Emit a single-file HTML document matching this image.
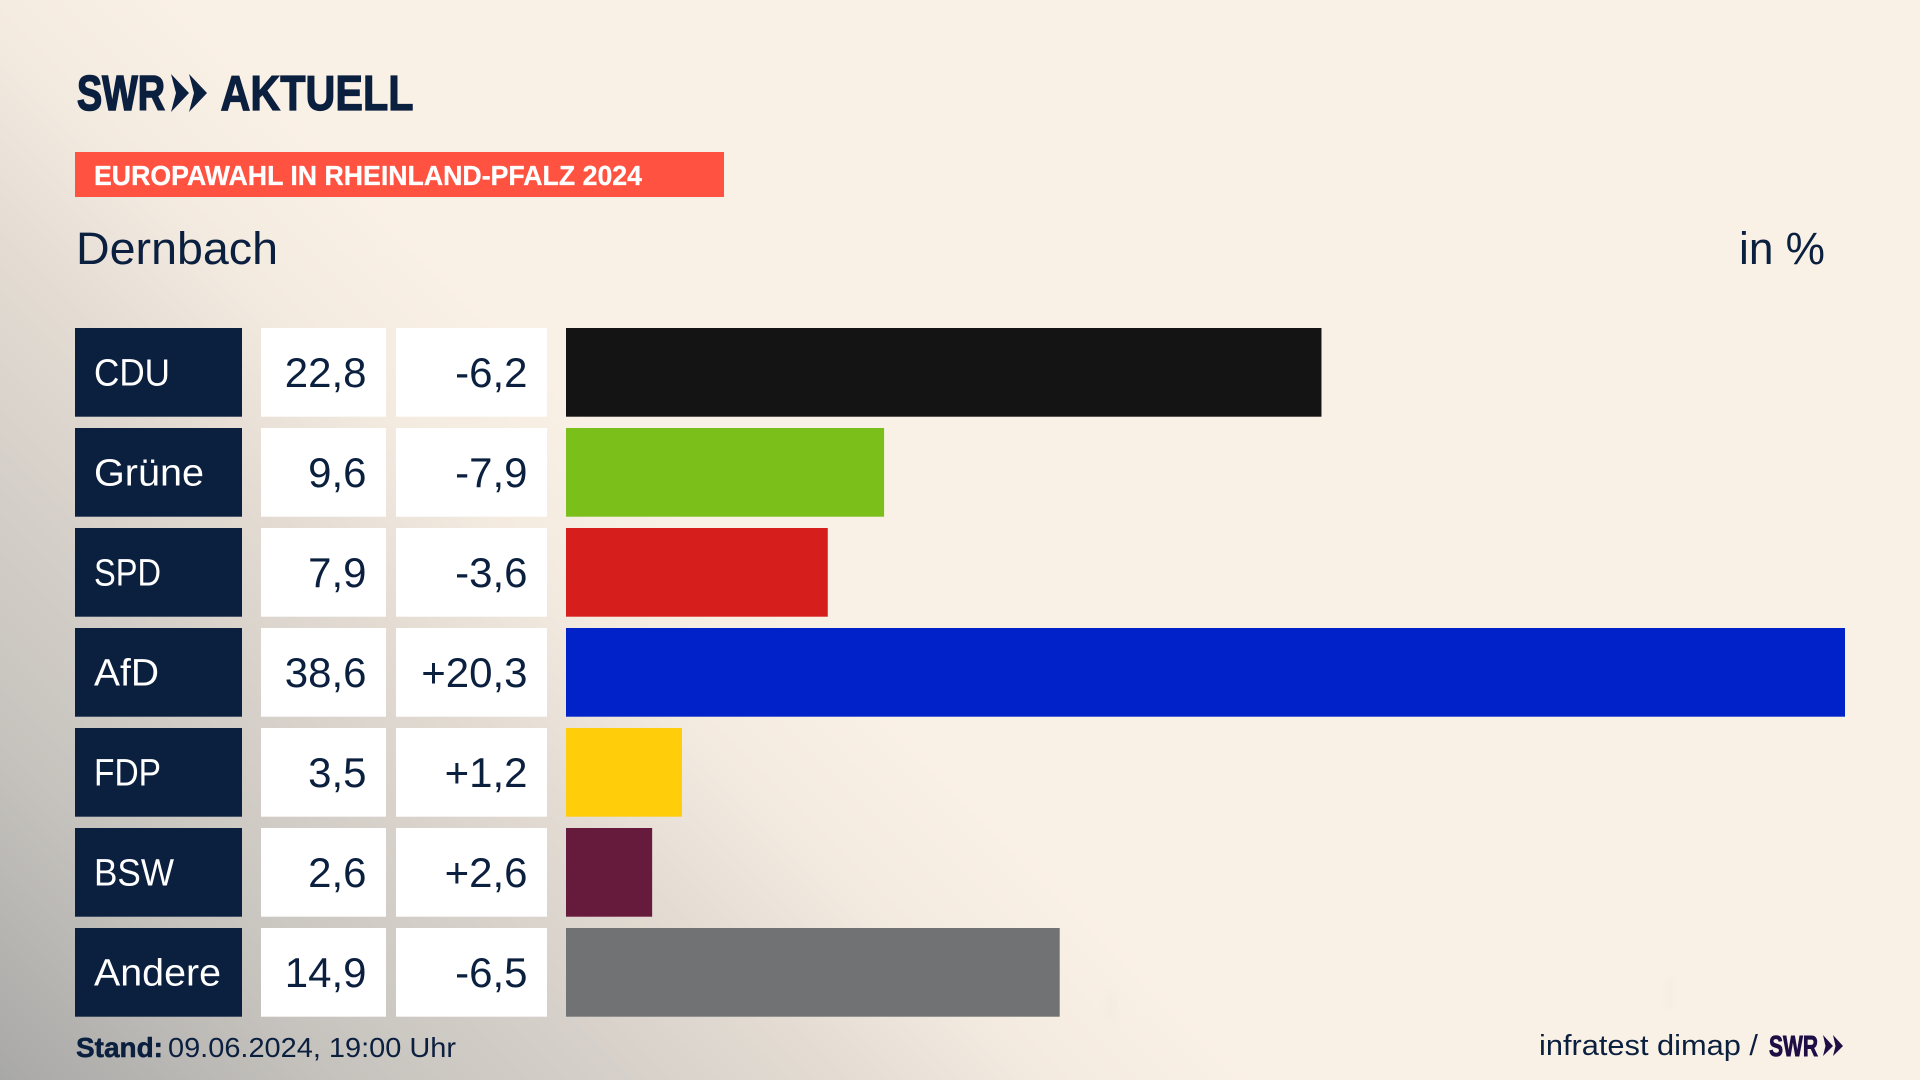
<!DOCTYPE html>
<html lang="de">
<head>
<meta charset="utf-8">
<title>Europawahl in Rheinland-Pfalz 2024 – Dernbach</title>
<style>
html,body{margin:0;padding:0;width:1920px;height:1080px;overflow:hidden;background:#faf1e6;}
#bg{position:absolute;left:0;top:0;width:1920px;height:1080px;
background:linear-gradient(45deg,#a8a8a7 0%,#b6b4b1 5%,#c5c2bd 11%,#d8d2cb 22%,#e4dcd3 28%,#f3eae0 35%,#faf1e6 42%,#faf1e6 100%);}
.smudge{position:absolute;width:10px;height:30px;background:#e9e3da;filter:blur(4px);opacity:.25;}
svg{position:absolute;left:0;top:0;}
text{font-family:"Liberation Sans",sans-serif;}
</style>
</head>
<body>
<div id="bg"></div>
<div class="smudge" style="left:1106px;top:990px"></div>
<div class="smudge" style="left:1665px;top:978px"></div>
<svg id="chart" width="1920" height="1080" viewBox="0 0 1920 1080" xmlns="http://www.w3.org/2000/svg">
  <g fill="#0b1f3f" stroke="#0b1f3f">
    <text x="77" y="110" font-size="49" font-weight="700" stroke-width="1.6" textLength="88" lengthAdjust="spacingAndGlyphs">SWR</text>
    <polygon points="171,74 189,93 171,112 176,93" stroke="none"/>
    <polygon points="189,74 207,93 189,112 194,93" stroke="none"/>
    <text x="220.5" y="110" font-size="49" font-weight="700" stroke-width="1.2" textLength="193" lengthAdjust="spacingAndGlyphs">AKTUELL</text>
  </g>
  <rect x="75" y="152" width="649" height="45" fill="#ff5240"/>
  <text x="94" y="185" font-size="28" font-weight="700" fill="#ffffff" stroke="#ffffff" stroke-width="0.3" textLength="548" lengthAdjust="spacingAndGlyphs">EUROPAWAHL IN RHEINLAND-PFALZ 2024</text>
  <text x="76" y="264" font-size="45" fill="#0b1f3f" textLength="202" lengthAdjust="spacingAndGlyphs">Dernbach</text>
  <text x="1739" y="264" font-size="45" fill="#0b1f3f" textLength="86" lengthAdjust="spacingAndGlyphs">in %</text>
  <g id="rows"></g>
  <text x="76" y="1057" font-size="28" font-weight="700" fill="#0b1f3f" stroke="#0b1f3f" stroke-width="0.5" textLength="87" lengthAdjust="spacingAndGlyphs">Stand:</text>
  <text x="168" y="1057" font-size="28" fill="#0b1f3f" textLength="288" lengthAdjust="spacingAndGlyphs">09.06.2024, 19:00 Uhr</text>
  <text x="1539" y="1055" font-size="29" fill="#0b1f3f" textLength="219" lengthAdjust="spacingAndGlyphs">infratest dimap /</text>
  <g fill="#1d0f45">
    <text x="1769" y="1056" font-size="29" font-weight="700" stroke="#1d0f45" stroke-width="0.9" textLength="49" lengthAdjust="spacingAndGlyphs">SWR</text>
    <polygon points="1823,1035 1833,1046 1823,1056 1825.5,1046"/>
    <polygon points="1833,1035 1843,1046 1833,1056 1835.5,1046"/>
  </g>
</svg>
<script>
const parties = ["CDU", "Grüne", "SPD", "AfD", "FDP", "BSW", "Andere"];
const shares = [22.8, 9.6, 7.9, 38.6, 3.5, 2.6, 14.9];
const changes = [-6.2, -7.9, -3.6, 20.3, 1.2, 2.6, -6.5];
const partyColors = ["#141414", "#7abf1a", "#d61f1c", "#0022c8", "#ffcd0a", "#661a3c", "#717274"];

const SVG_NS = "http://www.w3.org/2000/svg";
const axisMax = 38.6;
function xScale(v) { return v / axisMax * 1279; }
function yScale(i) { return 328 + i * 100; }
function fmtShare(v) { return v.toFixed(1).replace(".", ","); }
function fmtChange(v) { return (v > 0 ? "+" : "") + v.toFixed(1).replace(".", ","); }
function slug(s) { return s.toLowerCase().replace("ü", "ue"); }
function labelFit(name) {
  const fit = { "CDU": 76, "Grüne": 110, "SPD": 67, "AfD": 65, "FDP": 67, "BSW": 80, "Andere": 127 };
  return fit[name];
}

const rowsGroup = document.getElementById("rows");
function addRect(parent, x, y, w, h, fill) {
  const r = document.createElementNS(SVG_NS, "rect");
  r.setAttribute("x", x);
  r.setAttribute("y", y);
  r.setAttribute("width", w);
  r.setAttribute("height", h);
  r.setAttribute("fill", fill);
  parent.appendChild(r);
  return r;
}
function addText(parent, x, y, str, fill, anchor) {
  const t = document.createElementNS(SVG_NS, "text");
  t.setAttribute("x", x);
  t.setAttribute("y", y);
  t.setAttribute("fill", fill);
  t.setAttribute("font-size", "42");
  t.setAttribute("text-anchor", anchor);
  t.textContent = str;
  parent.appendChild(t);
  return t;
}
parties.forEach(function (party, i) {
  const y = yScale(i);
  const key = slug(party);
  const g = document.createElementNS(SVG_NS, "g");
  
  
  rowsGroup.appendChild(g);

  const labelBox = addRect(g, 75, y, 167, 88.7, "#0b1f3f");
  
  
  const label = addText(g, 94, y + 57.5, party, "#ffffff", "start");
  label.setAttribute("font-size", "38");
  label.setAttribute("textLength", labelFit(party));
  label.setAttribute("lengthAdjust", "spacingAndGlyphs");
  
  

  const shareBox = addRect(g, 261, y, 125, 88.7, "#ffffff");
  
  
  const share = addText(g, 366.5, y + 59, fmtShare(shares[i]), "#0b1f3f", "end");
  
  

  const changeBox = addRect(g, 396, y, 151, 88.7, "#ffffff");
  
  
  const change = addText(g, 527.5, y + 59, fmtChange(changes[i]), "#0b1f3f", "end");
  
  

  const bar = addRect(g, 566, y, xScale(shares[i]), 88.7, partyColors[i]);
  
  
});
</script>
</body>
</html>
